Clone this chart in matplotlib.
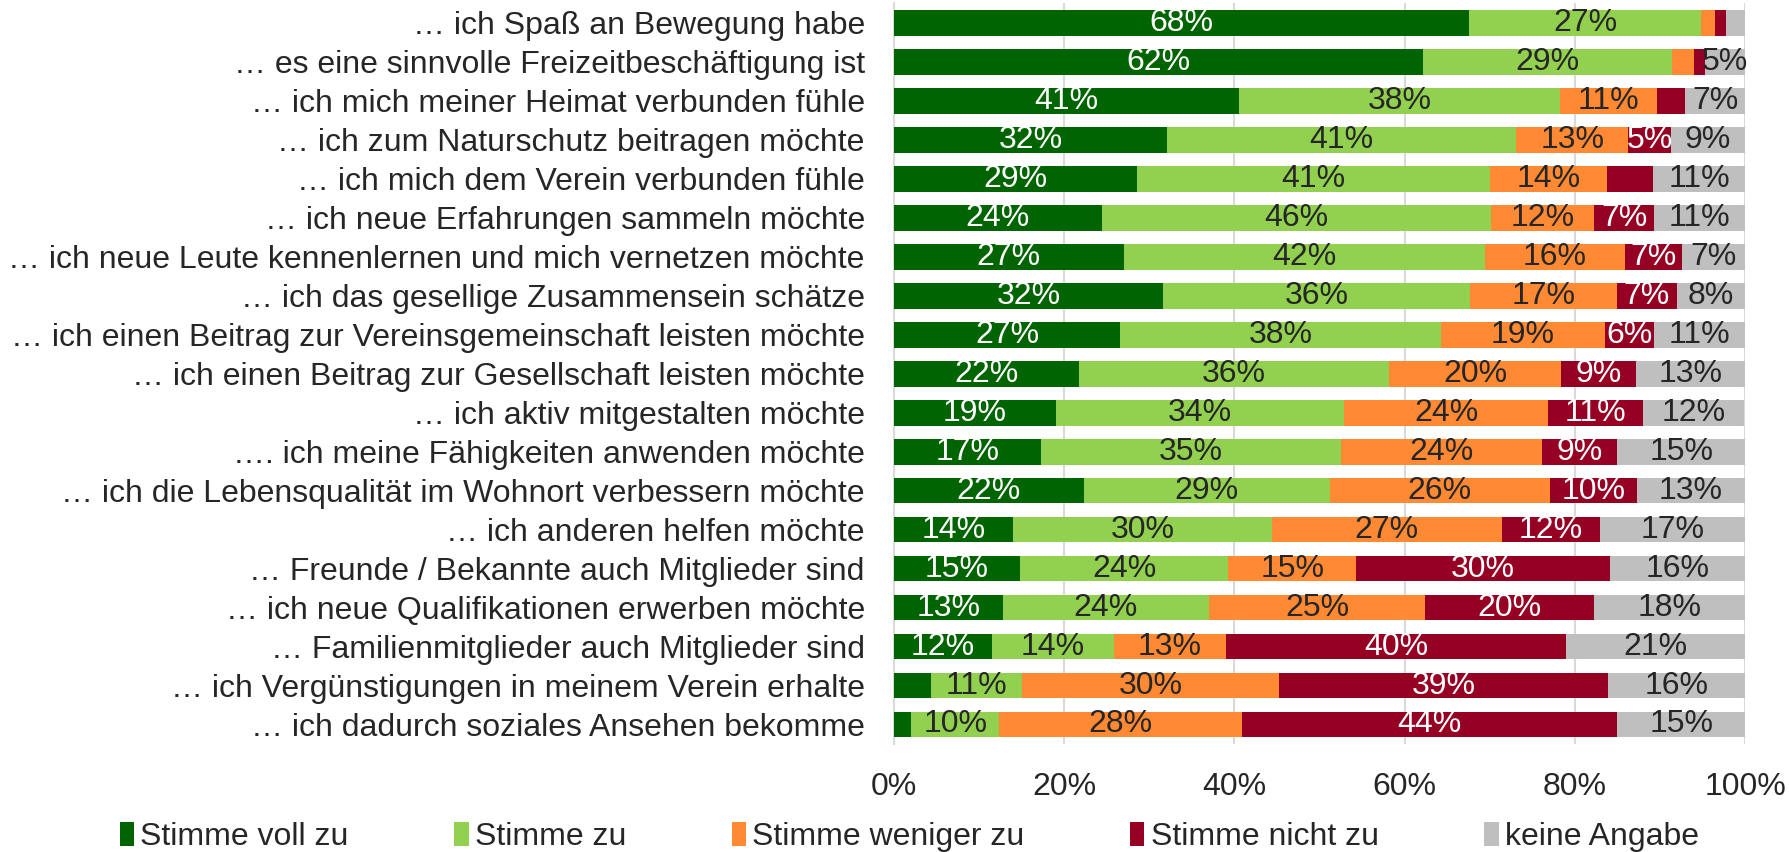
import matplotlib
matplotlib.use("Agg")
import matplotlib.pyplot as plt
import numpy as np

plt.rcParams['font.family'] = ['Liberation Sans', 'DejaVu Sans']

categories = [
    "… ich Spaß an Bewegung habe",
    "… es eine sinnvolle Freizeitbeschäftigung ist",
    "… ich mich meiner Heimat verbunden fühle",
    "… ich zum Naturschutz beitragen möchte",
    "… ich mich dem Verein verbunden fühle",
    "… ich neue Erfahrungen sammeln möchte",
    "… ich neue Leute kennenlernen und mich vernetzen möchte",
    "… ich das gesellige Zusammensein schätze",
    "… ich einen Beitrag zur Vereinsgemeinschaft leisten möchte",
    "… ich einen Beitrag zur Gesellschaft leisten möchte",
    "… ich aktiv mitgestalten möchte",
    "…. ich meine Fähigkeiten anwenden möchte",
    "… ich die Lebensqualität im Wohnort verbessern möchte",
    "… ich anderen helfen möchte",
    "… Freunde / Bekannte auch Mitglieder sind",
    "… ich neue Qualifikationen erwerben möchte",
    "… Familienmitglieder auch Mitglieder sind",
    "… ich Vergünstigungen in meinem Verein erhalte",
    "… ich dadurch soziales Ansehen bekomme",
]

series_names = ["Stimme voll zu", "Stimme zu", "Stimme weniger zu", "Stimme nicht zu", "keine Angabe"]

voll_zu   = [67.6, 62.2, 40.6, 32.1, 28.6, 24.4, 27.0, 31.6, 26.6, 21.7, 19.0, 17.3, 22.3, 14.0, 14.8, 12.8, 11.5, 4.3, 2.0]
zu        = [27.2, 29.2, 37.7, 41.0, 41.4, 45.7, 42.4, 36.1, 37.7, 36.5, 33.9, 35.2, 28.9, 30.4, 24.5, 24.2, 14.4, 10.8, 10.4]
weniger   = [1.7, 2.6, 11.4, 13.2, 13.8, 12.2, 16.5, 17.2, 19.2, 20.2, 24.0, 23.7, 25.9, 27.0, 15.0, 25.4, 13.1, 30.2, 28.5]
nicht_zu  = [1.3, 1.3, 3.3, 5.0, 5.4, 7.0, 6.7, 7.1, 5.8, 8.8, 11.1, 8.8, 10.2, 11.6, 29.8, 19.8, 40.0, 38.6, 44.1]
keine     = [2.2, 4.7, 7.0, 8.7, 10.8, 10.7, 7.4, 8.0, 10.7, 12.8, 11.9, 15.0, 12.7, 17.0, 15.9, 17.8, 21.0, 16.1, 15.0]

# which data labels are shown (1 = shown)
show_voll    = [1]*17 + [0, 0]
show_zu      = [1]*19
show_weniger = [0, 0] + [1]*17
show_nicht   = [0, 0, 0, 1, 0] + [1]*14
show_keine   = [0] + [1]*18

colors = ["#006400", "#92D050", "#FF8A33", "#960023", "#BFBFBF"]
label_colors = ["white", "#262626", "#262626", "white", "#262626"]

data = [voll_zu, zu, weniger, nicht_zu, keine]
shows = [show_voll, show_zu, show_weniger, show_nicht, show_keine]

FS = 23

fig = plt.figure(figsize=(17.90, 8.52), dpi=100)
ax = fig.add_axes([0.4994, 0.1268, 0.4755, 0.8692])

n = len(categories)
y = np.arange(n)
left = np.zeros(n)
handles = []
for vals, col, lc, sh, name in zip(data, colors, label_colors, shows, series_names):
    vals = np.array(vals)
    bars = ax.barh(y, vals, left=left, height=0.66, color=col, edgecolor="none", label=name, zorder=3)
    handles.append(bars)
    for i, (v, s) in enumerate(zip(vals, sh)):
        if s:
            ax.text(left[i] + v / 2, y[i], f"{round(v):.0f}%", ha="center", va="center",
                    color=lc, fontsize=FS, zorder=4)
    left += vals

ax.set_xlim(0, 100)
ax.set_ylim(n - 0.5, -0.5)
ax.set_yticks(y)
ax.set_yticklabels(categories, fontsize=FS, color="#262626")
ax.set_xticks(np.arange(0, 101, 20))
ax.set_xticklabels([f"{v}%" for v in range(0, 101, 20)], fontsize=FS, color="#262626")
ax.tick_params(axis="y", length=0, pad=21)
ax.tick_params(axis="x", length=0, pad=20)
ax.grid(axis="x", color="#D9D9D9", linewidth=1.5, zorder=0)
for s in ["top", "right", "bottom"]:
    ax.spines[s].set_visible(False)
ax.spines["left"].set_color("#D9D9D9")
ax.spines["left"].set_linewidth(1.5)

leg = fig.legend(handles=handles, labels=series_names, loc="center", bbox_to_anchor=(0.508, 0.0175),
                 ncol=5, frameon=False, fontsize=FS, handlelength=0.45, handleheight=0.8,
                 handletextpad=0.2, columnspacing=3.3, borderaxespad=0)
for t in leg.get_texts():
    t.set_color("#262626")

fig.savefig("out.png", dpi=100)
